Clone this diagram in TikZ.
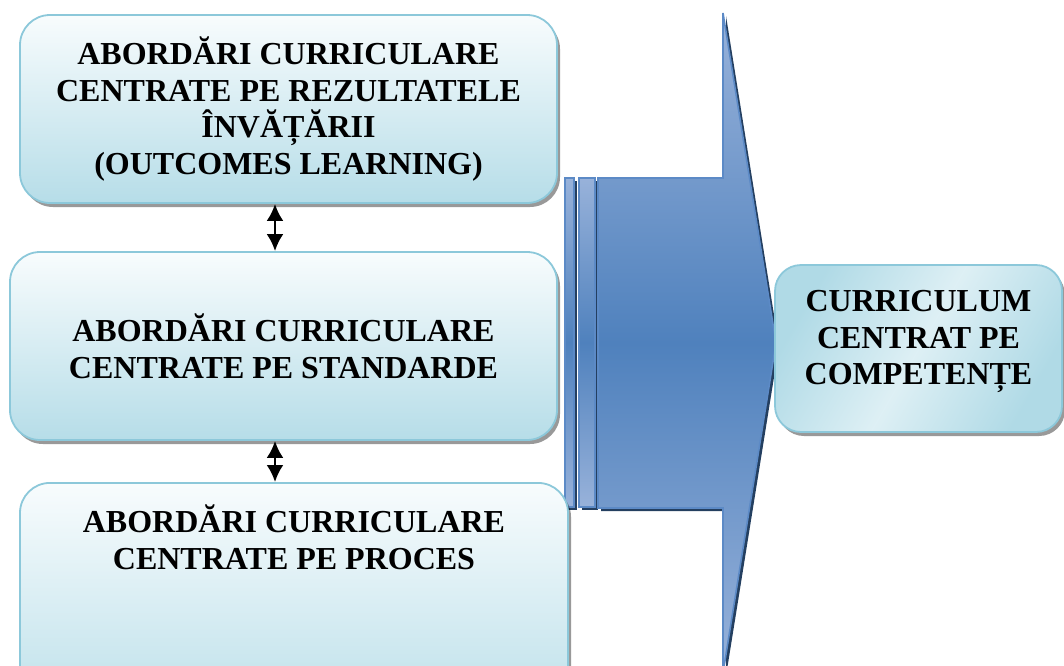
\documentclass[tikz,border=0pt]{standalone}
\usepackage{fontspec}
\setmainfont{Liberation Serif}
\usetikzlibrary{arrows.meta,shadows}
\definecolor{boxtop}{RGB}{248,252,253}
\definecolor{boxbottom}{RGB}{182,221,232}
\definecolor{boxborder}{RGB}{140,200,218}
\definecolor{arrowmid}{RGB}{79,129,189}
\definecolor{arrowlight}{RGB}{152,178,218}
\definecolor{arrowedge}{RGB}{92,138,198}
\definecolor{arrowshadow}{RGB}{36,63,96}

\begin{document}
\begin{tikzpicture}[x=0.5pt, y=-0.5pt, every node/.style={font=\fontsize{16}{18.4}\selectfont\bfseries, align=center},
  leftbox/.style={draw=boxborder, line width=0.9pt, rounded corners=15pt, top color=boxtop, bottom color=boxbottom,
    drop shadow={shadow xshift=1.5pt, shadow yshift=-2pt, fill=black, opacity=0.4}},
  rightbox/.style={draw=boxborder, line width=0.9pt, rounded corners=13pt, left color=boxbottom!85!boxborder, right color=boxbottom!85!boxborder, middle color=boxtop!60!boxbottom, shading angle=60,
    drop shadow={shadow xshift=1.5pt, shadow yshift=-2pt, fill=black, opacity=0.4}},
  bigarrow/.style={draw=arrowedge, line width=0.8pt, top color=arrowlight, bottom color=arrowlight, middle color=arrowmid,
    drop shadow={shadow xshift=1.5pt, shadow yshift=-1.5pt, fill=arrowshadow, opacity=1}},
  link/.style={{Latex[length=8.5pt,width=8.5pt]}-{Latex[length=8.5pt,width=8.5pt]}, line width=1.3pt, black}]
  \useasboundingbox (0,0) rectangle (1064,665);
  \clip (0,0) rectangle (1064,665);

  \path[bigarrow] (565,178) rectangle (574,507);
  \path[bigarrow] (579,178) rectangle (595,507);
  \path[bigarrow] (598,178) -- (723,178) -- (723,13) -- (776,343) -- (723,673) -- (723,508) -- (598,508) -- cycle;

  \node[leftbox, minimum width=268.5pt, minimum height=94pt] (outcomes) at (288.5,109) {ABORDĂRI CURRICULARE\\CENTRATE PE REZULTATELE\\ÎNVĂȚĂRII\\(OUTCOMES LEARNING)};
  \node[leftbox, minimum width=273.5pt, minimum height=94pt] (standards) at (283.5,346) {ABORDĂRI CURRICULARE\\CENTRATE PE STANDARDE};
  \node[leftbox, anchor=north, minimum width=274pt, inner ysep=11pt, text depth=75pt] (process) at (294,482) {ABORDĂRI CURRICULARE\\CENTRATE PE PROCES};
  \node[rightbox, minimum width=143.5pt, minimum height=83.5pt, text depth=11pt] (competence) at (918.5,348.5) {CURRICULUM\\CENTRAT PE\\COMPETENȚE};

  \coordinate (axis) at (275,0);
  \draw[link] (outcomes.south -| axis) -- (standards.north -| axis);
  \draw[link] (standards.south -| axis) -- (process.north -| axis);
\end{tikzpicture}
\end{document}
